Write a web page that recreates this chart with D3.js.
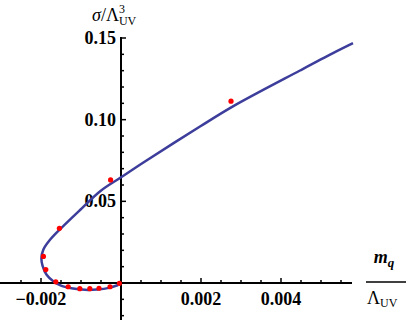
<!DOCTYPE html>
<html>
<head>
<meta charset="utf-8">
<script src="https://cdn.jsdelivr.net/npm/d3@7"></script>
<style>
  body { margin: 0; background: #fff; }
</style>
</head>
<body>
<svg id="chart" width="407" height="320" font-family="'Liberation Serif', 'Times New Roman', 'DejaVu Serif', serif"></svg>
<script>
// curve (m_q / Λ, σ / Λ³)
const curveX = [-0.00007, -0.0003, -0.0006, -0.0009, -0.0012, -0.0015, -0.0017, -0.00186, -0.00196, -0.00199,
  -0.00194, -0.00178, -0.0015, -0.00098, -0.00052, 0, 0.00056, 0.001975, 0.00281, 0.004475, 0.0053, 0.0058];
const curveY = [-0.0012, -0.003, -0.004, -0.0042, -0.0034, -0.0016, 0.0012, 0.005, 0.0105, 0.015,
  0.0205, 0.0263, 0.0335, 0.0457, 0.0562, 0.0647, 0.0738, 0.0958, 0.1083, 0.1301, 0.1407, 0.1468];

// red data points
const dotX = [0.00275, -0.00026, -0.00154, -0.00194, -0.00188, -0.00163, -0.00132, -0.00103, -0.00078, -0.00055, -0.000275, -0.00004];
const dotY = [0.1113, 0.0631, 0.0335, 0.0163, 0.0082, 0.0007, -0.0023, -0.0035, -0.0035, -0.0032, -0.0023, -0.0002];

const xMajor = [-0.002, 0.002, 0.004];
const xMajorLabels = ["\u22120.002", "0.002", "0.004"];
const xMinor = [-0.0025, -0.0015, -0.001, -0.0005, 0.0005, 0.001, 0.0015, 0.0025, 0.003, 0.0035, 0.0045, 0.005, 0.0055];
const yMajor = [0.05, 0.10, 0.15];
const yMajorLabels = ["0.05", "0.10", "0.15"];
const yMinor = [-0.02, -0.01, 0.01, 0.02, 0.03, 0.04, 0.06, 0.07, 0.08, 0.09, 0.11, 0.12, 0.13, 0.14];

const svg = d3.select("#chart");
const x = d3.scaleLinear().domain([-0.003025, 0.005775]).range([0, 352]);
const y = d3.scaleLinear().domain([0, 0.15]).range([283, 38]);
const x0 = x(0), y0 = y(0);

const axes = svg.append("g").attr("stroke", "#000");
axes.append("line").attr("x1", 0).attr("x2", 352).attr("y1", y0).attr("y2", y0).attr("stroke-width", 2);
axes.append("line").attr("x1", x0).attr("x2", x0).attr("y1", 37).attr("y2", 320).attr("stroke-width", 2);

// x ticks point up
axes.selectAll(".xmaj").data(xMajor).join("line")
  .attr("x1", d => x(d)).attr("x2", d => x(d)).attr("y1", y0).attr("y2", y0 - 5).attr("stroke-width", 1.5);
axes.selectAll(".xmin").data(xMinor).join("line")
  .attr("x1", d => x(d)).attr("x2", d => x(d)).attr("y1", y0).attr("y2", y0 - 3).attr("stroke-width", 1.5);
// y ticks point right
axes.selectAll(".ymaj").data(yMajor).join("line")
  .attr("x1", x0).attr("x2", x0 + 5).attr("y1", d => y(d)).attr("y2", d => y(d)).attr("stroke-width", 1.5);
axes.selectAll(".ymin").data(yMinor).join("line")
  .attr("x1", x0).attr("x2", x0 + 3).attr("y1", d => y(d)).attr("y2", d => y(d)).attr("stroke-width", 1.5);

svg.selectAll(".xl").data(xMajor).join("text")
  .attr("x", d => x(d)).attr("y", y0 + 22)
  .attr("text-anchor", "middle").attr("font-size", 18).attr("font-weight", "bold")
  .text((d, i) => xMajorLabels[i]);
svg.selectAll(".yl").data(yMajor).join("text")
  .attr("x", x0 - 5).attr("y", d => y(d) + 6)
  .attr("text-anchor", "end").attr("font-size", 18).attr("font-weight", "bold")
  .text((d, i) => yMajorLabels[i]);

// curve
const pts = d3.zip(curveX, curveY);
svg.append("path").datum(pts)
  .attr("fill", "none").attr("stroke", "#3d3d9b").attr("stroke-width", 2.5)
  .attr("d", d3.line().x(d => x(d[0])).y(d => y(d[1])).curve(d3.curveCatmullRom));

svg.selectAll(".dot").data(d3.zip(dotX, dotY)).join("circle")
  .attr("cx", d => x(d[0])).attr("cy", d => y(d[1])).attr("r", 2.6).attr("fill", "#ff0000");

// y label
const yl = svg.append("text").attr("x", 92).attr("y", 21).attr("font-size", 18);
yl.append("tspan").attr("font-style", "italic").text("\u03c3");
yl.append("tspan").text("/\u039b");
yl.append("tspan").attr("font-size", 12).attr("dy", -8).text("3");
yl.append("tspan").attr("font-size", 12).attr("dx", -6).attr("dy", 12).text("UV");

// x label as a fraction
const num = svg.append("text").attr("x", 384).attr("y", 263).attr("text-anchor", "middle").attr("font-size", 18);
num.append("tspan").attr("font-style", "italic").attr("font-weight", "bold").text("m");
num.append("tspan").attr("font-style", "italic").attr("font-weight", "bold").attr("font-size", 13).attr("dy", 4).text("q");
svg.append("line").attr("x1", 366).attr("x2", 406).attr("y1", 282).attr("y2", 282)
  .attr("stroke", "#000").attr("stroke-width", 1.5);
const den = svg.append("text").attr("x", 367).attr("y", 304).attr("font-size", 18);
den.append("tspan").text("\u039b");
den.append("tspan").attr("font-size", 12).attr("dy", 3).text("UV");
</script>
</body>
</html>
